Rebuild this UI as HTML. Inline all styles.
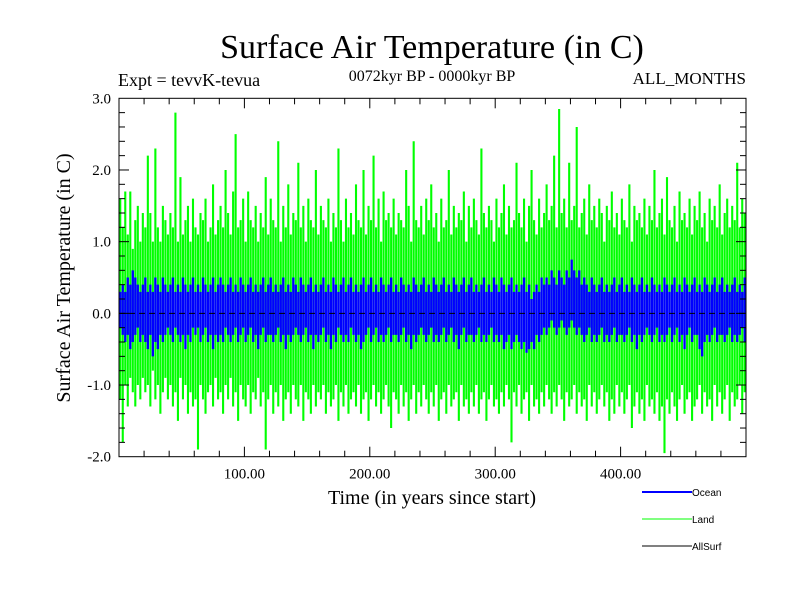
<!DOCTYPE html>
<html><head><meta charset="utf-8"><style>
html,body{margin:0;padding:0;background:#fff;}
svg text{font-family:"Liberation Serif",serif;fill:#000;}
</style></head><body>
<svg id="chart" width="800" height="600" viewBox="0 0 800 600" xmlns="http://www.w3.org/2000/svg">
<text x="432" y="58" font-size="34" text-anchor="middle">Surface Air Temperature (in C)</text>
<text x="118" y="86" font-size="18">Expt = tevvK-tevua</text>
<text x="432" y="81" font-size="16" text-anchor="middle">0072kyr BP - 0000kyr BP</text>
<text x="746" y="84" font-size="17" text-anchor="end">ALL_MONTHS</text>
<text transform="translate(70,278) rotate(-90)" font-size="20" text-anchor="middle">Surface Air Temperature (in C)</text>
<text x="432" y="504" font-size="20" text-anchor="middle">Time (in years since start)</text>
<g id="series"></g>
<g id="axes"></g>
<g>
<line x1="642" y1="492" x2="692" y2="492" stroke="#0000ff" stroke-width="2"/>
<text x="692" y="496" font-size="10" style="font-family:'Liberation Sans',sans-serif">Ocean</text>
<line x1="642" y1="519" x2="692" y2="519" stroke="#00ff00" stroke-width="1"/>
<text x="692" y="523" font-size="10" style="font-family:'Liberation Sans',sans-serif">Land</text>
<line x1="642" y1="546" x2="692" y2="546" stroke="#000" stroke-width="1"/>
<text x="692" y="550" font-size="10" style="font-family:'Liberation Sans',sans-serif">AllSurf</text>
</g>
</svg>
<script>
const xTicks = [100, 200, 300, 400];
const xTickLabels = ["100.00", "200.00", "300.00", "400.00"];
const yTicks = [3, 2, 1, 0, -1, -2];
const yTickLabels = ["3.0", "2.0", "1.0", "0.0", "-1.0", "-2.0"];
// per 2-year bin: max / min of land and ocean anomalies
const landHigh = [
1.6,1.2,1.7,1.1,1.7,0.9,1.3,1.5,1.0,1.4,
1.2,2.2,1.4,1.0,2.3,1.2,1.0,1.5,1.3,1.1,
1.4,1.2,2.8,1.0,1.9,1.1,1.3,1.5,1.0,1.6,
1.2,1.1,1.4,1.3,1.6,1.0,1.2,1.8,1.1,1.3,
1.5,1.2,2.0,1.4,1.1,1.7,2.5,1.2,1.3,1.6,
1.0,1.7,1.3,1.2,1.5,1.0,1.4,1.2,1.9,1.1,
1.6,1.3,1.2,2.4,1.0,1.5,1.2,1.8,1.1,1.4,
1.3,2.1,1.2,1.5,1.0,1.6,1.3,1.2,2.0,1.1,
1.5,1.3,1.2,1.6,1.0,1.4,1.2,2.3,1.3,1.0,
1.6,1.2,1.4,1.1,1.8,1.3,1.2,2.0,1.1,1.5,
1.3,2.2,1.2,1.6,1.0,1.7,1.3,1.4,1.2,1.6,
1.1,1.4,1.3,1.2,2.0,1.5,1.0,2.4,1.3,1.2,
1.5,1.1,1.6,1.3,1.8,1.2,1.4,1.0,1.6,1.2,
1.3,2.0,1.1,1.5,1.2,1.4,1.3,1.7,1.0,1.5,
1.2,1.6,1.3,1.1,2.3,1.4,1.2,1.5,1.3,1.0,
1.6,1.2,1.4,1.8,1.1,1.5,1.2,1.3,2.1,1.4,
1.2,1.6,1.0,1.5,2.0,1.3,1.1,1.6,1.2,1.4,
1.8,1.3,1.5,2.2,1.2,2.85,1.4,1.6,1.2,2.1,
1.3,1.5,2.6,1.2,1.4,1.6,1.1,1.8,1.3,1.5,
1.2,1.6,1.4,1.0,1.5,1.3,1.7,1.2,1.4,1.1,
1.6,1.3,1.2,1.8,1.0,1.5,1.3,1.4,1.2,1.6,
1.1,1.5,1.3,2.0,1.2,1.4,1.6,1.1,1.9,1.3,
1.2,1.5,1.0,1.7,1.3,1.4,1.2,1.6,1.1,1.5,
1.3,1.7,1.2,1.4,1.0,1.6,1.3,1.5,1.2,1.8,
1.1,1.4,1.6,1.2,1.5,1.3,2.1,1.2,1.6,1.4];
const landLow = [
-1.2,-1.8,-1.0,-1.3,-0.9,-1.1,-1.3,-1.0,-1.2,-0.9,
-1.1,-1.0,-1.3,-0.8,-1.2,-1.0,-1.4,-1.1,-0.9,-1.2,
-1.0,-1.3,-1.1,-1.5,-0.9,-1.2,-1.0,-1.4,-1.1,-1.3,
-1.2,-1.9,-1.0,-1.2,-1.4,-1.1,-1.0,-1.3,-0.9,-1.2,
-1.1,-1.4,-1.0,-1.2,-0.9,-1.3,-1.1,-1.5,-1.0,-1.2,
-1.3,-1.0,-1.4,-1.1,-1.2,-0.9,-1.3,-1.1,-1.9,-1.2,
-1.0,-1.4,-1.1,-1.3,-1.0,-1.5,-1.2,-1.1,-1.4,-1.0,
-1.2,-1.3,-1.0,-1.5,-1.1,-1.2,-1.4,-1.0,-1.3,-1.1,
-1.2,-1.0,-1.4,-1.1,-1.3,-1.2,-1.0,-1.5,-1.1,-1.3,
-1.0,-1.4,-1.2,-1.1,-1.3,-1.0,-1.4,-1.2,-1.1,-1.5,
-1.2,-1.0,-1.3,-1.1,-1.4,-1.2,-1.0,-1.3,-1.6,-1.1,
-1.2,-1.4,-1.0,-1.3,-1.1,-1.5,-1.2,-1.0,-1.4,-1.1,
-1.3,-1.0,-1.2,-1.4,-1.1,-1.3,-1.0,-1.5,-1.2,-1.1,
-1.4,-1.0,-1.3,-1.2,-1.1,-1.5,-1.0,-1.3,-1.2,-1.4,
-1.1,-1.3,-1.0,-1.4,-1.2,-1.1,-1.5,-1.2,-1.0,-1.3,
-1.2,-1.4,-1.1,-1.3,-1.0,-1.2,-1.8,-1.1,-1.3,-1.0,
-1.4,-1.2,-1.1,-1.5,-1.0,-1.3,-1.2,-1.4,-1.1,-1.3,
-1.0,-1.2,-1.4,-1.1,-1.3,-1.0,-1.2,-1.5,-1.1,-1.3,
-1.2,-1.0,-1.4,-1.1,-1.3,-1.2,-1.5,-1.0,-1.3,-1.1,
-1.4,-1.2,-1.0,-1.3,-1.1,-1.5,-1.2,-1.4,-1.0,-1.3,
-1.1,-1.4,-1.2,-1.0,-1.6,-1.3,-1.1,-1.4,-1.2,-1.5,
-1.0,-1.3,-1.2,-1.4,-1.1,-1.5,-1.3,-1.95,-1.2,-1.4,
-1.1,-1.3,-1.5,-1.2,-1.0,-1.4,-1.2,-1.1,-1.5,-1.3,
-1.2,-1.0,-1.4,-1.1,-1.3,-1.2,-1.5,-1.0,-1.3,-1.1,
-1.4,-1.2,-1.0,-1.5,-1.1,-1.3,-1.2,-1.0,-1.4,-1.1];
const oceanHigh = [
0.3,0.4,0.3,0.5,0.4,0.6,0.5,0.4,0.3,0.4,
0.5,0.3,0.4,0.3,0.5,0.4,0.3,0.5,0.4,0.3,
0.4,0.5,0.3,0.4,0.3,0.5,0.4,0.3,0.4,0.5,
0.3,0.4,0.3,0.5,0.4,0.3,0.4,0.5,0.3,0.4,
0.5,0.4,0.3,0.4,0.5,0.3,0.4,0.3,0.5,0.4,
0.3,0.4,0.5,0.3,0.4,0.3,0.4,0.5,0.3,0.4,
0.5,0.3,0.4,0.3,0.4,0.5,0.3,0.4,0.3,0.5,
0.4,0.3,0.5,0.4,0.3,0.4,0.5,0.3,0.4,0.3,
0.4,0.5,0.3,0.4,0.3,0.5,0.4,0.3,0.4,0.5,
0.3,0.4,0.5,0.3,0.4,0.3,0.4,0.5,0.3,0.4,
0.5,0.3,0.4,0.3,0.5,0.4,0.3,0.4,0.5,0.3,
0.4,0.3,0.5,0.4,0.3,0.4,0.3,0.5,0.4,0.3,
0.4,0.5,0.3,0.4,0.3,0.5,0.4,0.3,0.4,0.5,
0.3,0.4,0.3,0.5,0.4,0.3,0.4,0.5,0.3,0.4,
0.5,0.3,0.4,0.3,0.4,0.5,0.3,0.4,0.3,0.5,
0.4,0.3,0.5,0.4,0.3,0.4,0.5,0.3,0.4,0.3,
0.4,0.5,0.3,0.4,0.2,0.3,0.4,0.3,0.5,0.4,
0.5,0.4,0.6,0.5,0.4,0.6,0.5,0.4,0.6,0.5,
0.75,0.6,0.5,0.6,0.4,0.5,0.4,0.3,0.5,0.4,
0.3,0.4,0.5,0.3,0.4,0.3,0.4,0.5,0.3,0.4,
0.5,0.3,0.4,0.3,0.5,0.4,0.3,0.4,0.5,0.3,
0.4,0.3,0.5,0.4,0.3,0.4,0.3,0.5,0.4,0.3,
0.4,0.5,0.3,0.4,0.3,0.5,0.4,0.3,0.4,0.5,
0.3,0.4,0.3,0.5,0.4,0.3,0.4,0.5,0.3,0.4,
0.5,0.3,0.4,0.3,0.4,0.5,0.3,0.4,0.3,0.5];
const oceanLow = [
-0.2,-0.3,-0.4,-0.3,-0.5,-0.4,-0.3,-0.2,-0.4,-0.3,
-0.4,-0.5,-0.3,-0.6,-0.4,-0.5,-0.3,-0.4,-0.3,-0.2,
-0.3,-0.4,-0.2,-0.3,-0.4,-0.3,-0.5,-0.3,-0.4,-0.2,
-0.3,-0.2,-0.4,-0.3,-0.2,-0.4,-0.3,-0.5,-0.3,-0.4,
-0.3,-0.4,-0.2,-0.3,-0.4,-0.3,-0.2,-0.4,-0.3,-0.2,
-0.4,-0.3,-0.2,-0.4,-0.3,-0.5,-0.3,-0.2,-0.4,-0.3,
-0.3,-0.4,-0.3,-0.2,-0.4,-0.3,-0.5,-0.3,-0.4,-0.3,
-0.2,-0.3,-0.4,-0.3,-0.2,-0.4,-0.3,-0.5,-0.3,-0.4,
-0.3,-0.2,-0.4,-0.3,-0.5,-0.3,-0.4,-0.2,-0.3,-0.4,
-0.3,-0.4,-0.2,-0.3,-0.4,-0.3,-0.5,-0.4,-0.3,-0.2,
-0.4,-0.3,-0.2,-0.4,-0.3,-0.4,-0.3,-0.2,-0.4,-0.3,
-0.3,-0.4,-0.3,-0.2,-0.4,-0.3,-0.5,-0.3,-0.4,-0.3,
-0.2,-0.3,-0.4,-0.3,-0.2,-0.4,-0.3,-0.4,-0.3,-0.2,
-0.4,-0.3,-0.2,-0.4,-0.3,-0.5,-0.3,-0.2,-0.4,-0.3,
-0.3,-0.4,-0.3,-0.2,-0.4,-0.3,-0.4,-0.3,-0.2,-0.4,
-0.3,-0.4,-0.3,-0.5,-0.4,-0.3,-0.5,-0.4,-0.3,-0.4,
-0.5,-0.4,-0.55,-0.5,-0.4,-0.5,-0.3,-0.4,-0.3,-0.2,
-0.3,-0.2,-0.1,-0.2,-0.3,-0.2,-0.1,-0.2,-0.3,-0.2,
-0.1,-0.2,-0.3,-0.2,-0.3,-0.4,-0.3,-0.2,-0.4,-0.3,
-0.4,-0.3,-0.2,-0.4,-0.3,-0.4,-0.3,-0.2,-0.4,-0.3,
-0.3,-0.4,-0.3,-0.2,-0.4,-0.3,-0.5,-0.3,-0.4,-0.3,
-0.2,-0.3,-0.4,-0.3,-0.2,-0.4,-0.3,-0.4,-0.3,-0.2,
-0.4,-0.3,-0.2,-0.4,-0.3,-0.5,-0.3,-0.2,-0.4,-0.3,
-0.3,-0.5,-0.6,-0.4,-0.3,-0.4,-0.3,-0.2,-0.4,-0.3,
-0.3,-0.4,-0.3,-0.2,-0.4,-0.3,-0.4,-0.3,-0.2,-0.4];

const NS = "http://www.w3.org/2000/svg";
const X0 = 119, X1 = 746, Y0 = 98.3, Y1 = 456.7;
const xMin = 0, xMax = 500, yMin = -2, yMax = 3;
function xs(v){ return X0 + (v - xMin) / (xMax - xMin) * (X1 - X0); }
function ys(v){ return Y1 - (v - yMin) / (yMax - yMin) * (Y1 - Y0); }
function mk(tag, attrs, parent){
  const el = document.createElementNS(NS, tag);
  for (const k in attrs) el.setAttribute(k, attrs[k]);
  parent.appendChild(el);
  return el;
}
const series = document.getElementById('series');
const axes = document.getElementById('axes');

function drawBand(high, low, color, width, name){
  const g = mk('g', {}, series);
  
  
  const step = (xMax - xMin) / high.length;
  let d = '';
  high.forEach((h, i) => {
    const xm = xs(xMin + (i + 0.5) * step);
    d += 'M' + xm.toFixed(2) + ',' + ys(h).toFixed(2) + 'V' + ys(low[i]).toFixed(2);
  });
  const p = mk('path', {d: d, stroke: color, 'stroke-width': width, fill: 'none'}, g);
  
  
}
drawBand(landHigh, landLow, '#00ff00', 2.1, 'land-series');
drawBand(oceanHigh, oceanLow, '#0000ff', 2.3, 'ocean-series');

const zl = mk('line', {x1: X0, x2: X1, y1: ys(0), y2: ys(0), stroke: '#000', 'stroke-width': 1, 'stroke-dasharray': '6,4'}, series);



const frame = mk('rect', {x: X0, y: Y0, width: X1 - X0, height: Y1 - Y0, fill: 'none', stroke: '#000', 'stroke-width': 1}, axes);



for (let v = 20; v < xMax; v += 20) {
  const major = v % 100 === 0;
  const len = major ? 10 : 6;
  const t1 = mk('line', {x1: xs(v), x2: xs(v), y1: Y1, y2: Y1 - len, stroke: '#000', 'stroke-width': 1}, axes);
  
  
  const t2 = mk('line', {x1: xs(v), x2: xs(v), y1: Y0, y2: Y0 + len, stroke: '#000', 'stroke-width': 1}, axes);
  
  
}
xTicks.forEach((v, i) => {
  const t = mk('text', {x: xs(v), y: Y1 + 22, 'font-size': 15, 'text-anchor': 'middle'}, axes);
  t.textContent = xTickLabels[i];
  
  
});
for (let k = 1; k < 25; k++) {
  const v = yMin + k * 0.2;
  const major = k % 5 === 0;
  const len = major ? 10 : 6;
  const a = mk('line', {x1: X0, x2: X0 + len, y1: ys(v), y2: ys(v), stroke: '#000', 'stroke-width': 1}, axes);
  
  
  const b = mk('line', {x1: X1, x2: X1 - len, y1: ys(v), y2: ys(v), stroke: '#000', 'stroke-width': 1}, axes);
  
  
}
yTicks.forEach((v, i) => {
  const t = mk('text', {x: X0 - 8, y: ys(v) + 5, 'font-size': 15, 'text-anchor': 'end'}, axes);
  t.textContent = yTickLabels[i];
  
  
});
</script>
</body></html>
